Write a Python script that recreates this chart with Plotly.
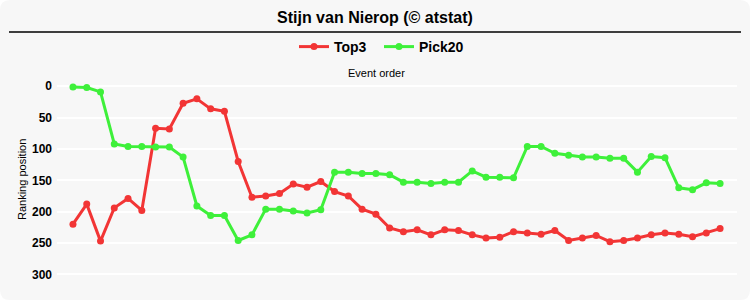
import plotly.graph_objects as go

events = list(range(1, 49))
top3 = [220, 188, 247, 194, 179, 198, 67, 68, 27, 20, 36, 40, 120, 177, 175, 171,
        156, 161, 152, 168, 175, 196, 204, 226, 232, 229, 237, 229, 230, 237, 242, 241,
        232, 234, 236, 230, 246, 242, 238, 248, 246, 242, 237, 234, 236, 240, 234, 227]
pick20 = [1, 2, 9, 92, 96, 96, 97, 97, 113, 191, 206, 206, 246, 237, 196, 196,
          199, 202, 197, 137, 137, 139, 139, 141, 153, 153, 155, 153, 153, 135, 145, 145,
          146, 96, 96, 107, 110, 113, 113, 115, 115, 137, 112, 114, 162, 165, 154, 155]
y_ticks = [0, 50, 100, 150, 200, 250, 300]

W, H = 750, 300
L, R, T, B = 57, 13, 78, 10
PW, PH = W - L - R, H - T - B


def px(x):
    return (x - L) / PW


def py(y):
    return (H - B - y) / PH


RED = "#f23535"
GREEN = "#3ef03a"

fig = go.Figure()
fig.add_trace(go.Scatter(x=events, y=top3, name="Top3", mode="lines+markers",
                         line=dict(color=RED, width=3), marker=dict(color=RED, size=7)))
fig.add_trace(go.Scatter(x=events, y=pick20, name="Pick20", mode="lines+markers",
                         line=dict(color=GREEN, width=3), marker=dict(color=GREEN, size=7)))

r = 10
path = (f"M {px(r)},{py(0)} L {px(W-r)},{py(0)} Q {px(W)},{py(0)} {px(W)},{py(r)} "
        f"L {px(W)},{py(H-r)} Q {px(W)},{py(H)} {px(W-r)},{py(H)} "
        f"L {px(r)},{py(H)} Q {px(0)},{py(H)} {px(0)},{py(H-r)} "
        f"L {px(0)},{py(r)} Q {px(0)},{py(0)} {px(r)},{py(0)} Z")

fig.update_layout(
    width=W, height=H,
    margin=dict(l=L, r=R, t=T, b=B),
    paper_bgcolor="white",
    plot_bgcolor="rgba(0,0,0,0)",
    font=dict(family="Liberation Sans, Arial, sans-serif", color="black"),
    showlegend=True,
    legend=dict(orientation="h", x=px(379), xanchor="center", y=py(47), yanchor="middle",
                font=dict(size=14, weight="bold"), itemwidth=30,
                entrywidth=40, entrywidthmode="pixels",
                bgcolor="rgba(0,0,0,0)"),
    shapes=[
        dict(type="path", path=path, xref="paper", yref="paper", layer="below",
             fillcolor="#f7f7f7", line=dict(width=0)),
        dict(type="line", xref="paper", yref="paper", x0=px(9), x1=px(741),
             y0=py(32), y1=py(32), line=dict(color="black", width=1.5)),
    ],
    annotations=[
        dict(text="Stijn van Nierop (© atstat)", xref="paper", yref="paper",
             x=px(375), y=py(17), xanchor="center", yanchor="middle", showarrow=False,
             font=dict(size=16, weight="bold")),
        dict(text="Event order", xref="paper", yref="paper",
             x=px(376), y=py(73), xanchor="center", yanchor="middle", showarrow=False,
             font=dict(size=11)),
        dict(text="Ranking position", xref="paper", yref="paper", textangle=-90,
             x=px(22), y=py(180), xanchor="center", yanchor="middle", showarrow=False,
             font=dict(size=11)),
    ],
)
fig.update_xaxes(range=[-0.16, 49.23], showgrid=False, zeroline=False,
                 showticklabels=False, showline=False, side="top")
fig.update_yaxes(range=[325, -13.2], tickvals=y_ticks, showgrid=True,
                 gridcolor="white", gridwidth=1.5, zeroline=False, showline=False,
                 tickfont=dict(size=12, weight="bold"), ticklabelstandoff=4)

fig.write_html("out.html")
